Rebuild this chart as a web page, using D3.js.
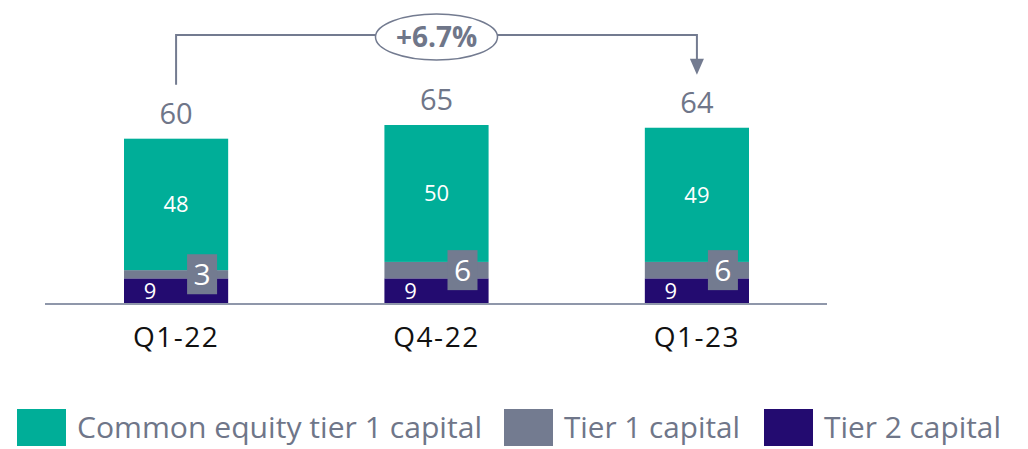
<!DOCTYPE html>
<html>
<head>
<meta charset="utf-8">
<script src="https://cdn.jsdelivr.net/npm/d3@7/dist/d3.min.js"></script>
<style>
  html, body { margin: 0; padding: 0; background: #ffffff; }
  svg { display: block; }
  text { font-family: "Open Sans", "Noto Sans", sans-serif; }
</style>
</head>
<body>
<svg id="chart" width="1028" height="449"></svg>
<script>
// Capital base by quarter (stacked, bottom to top: Tier 2, Tier 1, CET1)
const quarters = ["Q1-22", "Q4-22", "Q1-23"];
const tier2 = [9, 9, 9];
const tier1 = [3, 6, 6];
const cet1 = [48, 50, 49];
const totals = [60, 65, 64];
const changeLabel = "+6.7%";
const seriesNames = ["Common equity tier 1 capital", "Tier 1 capital", "Tier 2 capital"];

const colors = {
  cet1: "#00ae98",
  tier1: "#737b90",
  tier2: "#230b70",
  text: "#6f7689",
  axis: "#8f97aa"
};

const svg = d3.select("#chart");

const x = d3.scaleBand()
  .domain(quarters)
  .range([124, 749])
  .paddingInner(0.6)
  .paddingOuter(0);

const y = d3.scaleLinear().domain([0, 65]).range([303, 125]);

const rows = quarters.map((q, i) => ({
  q, tier2: tier2[i], tier1: tier1[i], cet1: cet1[i], total: totals[i]
}));

const stack = d3.stack().keys(["tier2", "tier1", "cet1"])(rows);

// stacked bars
const layers = svg.append("g").selectAll("g")
  .data(stack)
  .join("g")
  .attr("fill", d => colors[d.key]);

layers.selectAll("rect")
  .data(d => d)
  .join("rect")
  .attr("x", d => x(d.data.q))
  .attr("width", x.bandwidth())
  .attr("y", d => y(d[1]))
  .attr("height", d => y(d[0]) - y(d[1]));

// baseline
svg.append("line")
  .attr("x1", 45).attr("x2", 827)
  .attr("y1", 304).attr("y2", 304)
  .attr("stroke", colors.axis)
  .attr("stroke-width", 2);

const cx = q => x(q) + x.bandwidth() / 2;

// CET1 values inside the bars
svg.append("g").selectAll("text")
  .data(stack[2])
  .join("text")
  .attr("x", d => cx(d.data.q))
  .attr("y", d => (y(d[0]) + y(d[1])) / 2)
  .attr("dy", "0.36em")
  .attr("text-anchor", "middle")
  .attr("font-size", 22)
  .attr("fill", "#ffffff")
  .text(d => d.data.cet1);

// Tier 2 values
svg.append("g").selectAll("text")
  .data(stack[0])
  .join("text")
  .attr("x", d => cx(d.data.q) - 26)
  .attr("y", d => (y(d[0]) + y(d[1])) / 2)
  .attr("dy", "0.36em")
  .attr("text-anchor", "middle")
  .attr("font-size", 22)
  .attr("fill", "#ffffff")
  .text(d => d.data.tier2);

// Tier 1 values in callout boxes
const t1 = svg.append("g").selectAll("g")
  .data(stack[1])
  .join("g")
  .attr("transform", d => `translate(${cx(d.data.q) + 26},${(y(d[0]) + y(d[1])) / 2})`);

t1.append("rect")
  .attr("x", -15).attr("y", -20)
  .attr("width", 30).attr("height", 40)
  .attr("fill", colors.tier1);

t1.append("text")
  .attr("text-anchor", "middle")
  .attr("dy", "0.36em")
  .attr("font-size", 30)
  .attr("fill", "#ffffff")
  .text(d => d.data.tier1);

// totals above bars
svg.append("g").selectAll("text")
  .data(rows)
  .join("text")
  .attr("x", d => cx(d.q))
  .attr("y", d => y(d.total) - 15)
  .attr("text-anchor", "middle")
  .attr("font-size", 29)
  .attr("fill", colors.text)
  .text(d => d.total);

// category labels
svg.append("g").selectAll("text")
  .data(quarters)
  .join("text")
  .attr("x", d => cx(d))
  .attr("y", 347)
  .attr("text-anchor", "middle")
  .attr("font-size", 28)
  .attr("letter-spacing", 1.5)
  .attr("fill", "#111111")
  .text(d => d);

// growth bracket from first to last quarter
const xa = cx(quarters[0]);
const xb = cx(quarters[quarters.length - 1]);
const topY = 35;
const startY = y(totals[0]) - 54;
const tipY = y(totals[totals.length - 1]) - 53;

svg.append("path")
  .attr("d", `M${xa},${startY}V${topY}H${xb}V${tipY - 15}`)
  .attr("fill", "none")
  .attr("stroke", colors.tier1)
  .attr("stroke-width", 2);

svg.append("path")
  .attr("d", `M${xb - 7},${tipY - 16}L${xb + 7},${tipY - 16}L${xb},${tipY}Z`)
  .attr("fill", colors.tier1);

const mid = (xa + xb) / 2;
svg.append("ellipse")
  .attr("cx", mid).attr("cy", 37)
  .attr("rx", 61).attr("ry", 23)
  .attr("fill", "#ffffff")
  .attr("stroke", colors.tier1)
  .attr("stroke-width", 1.5);

svg.append("text")
  .attr("x", mid).attr("y", 37)
  .attr("dy", "0.36em")
  .attr("text-anchor", "middle")
  .attr("font-size", 28)
  .attr("font-weight", 700)
  .attr("fill", colors.text)
  .text(changeLabel);

// legend
const legendItems = [
  { name: seriesNames[0], color: colors.cet1, x: 17, w: 405 },
  { name: seriesNames[1], color: colors.tier1, x: 504, w: 176 },
  { name: seriesNames[2], color: colors.tier2, x: 764, w: 177 }
];

const lg = svg.append("g").selectAll("g")
  .data(legendItems)
  .join("g")
  .attr("transform", d => `translate(${d.x},409)`);

lg.append("rect")
  .attr("width", 49).attr("height", 37)
  .attr("fill", d => d.color);

lg.append("text")
  .attr("x", 60)
  .attr("y", 29)
  .attr("font-size", 30)
  .attr("fill", colors.text)
  .attr("textLength", d => d.w)
  .attr("lengthAdjust", "spacingAndGlyphs")
  .text(d => d.name);
</script>
</body>
</html>
